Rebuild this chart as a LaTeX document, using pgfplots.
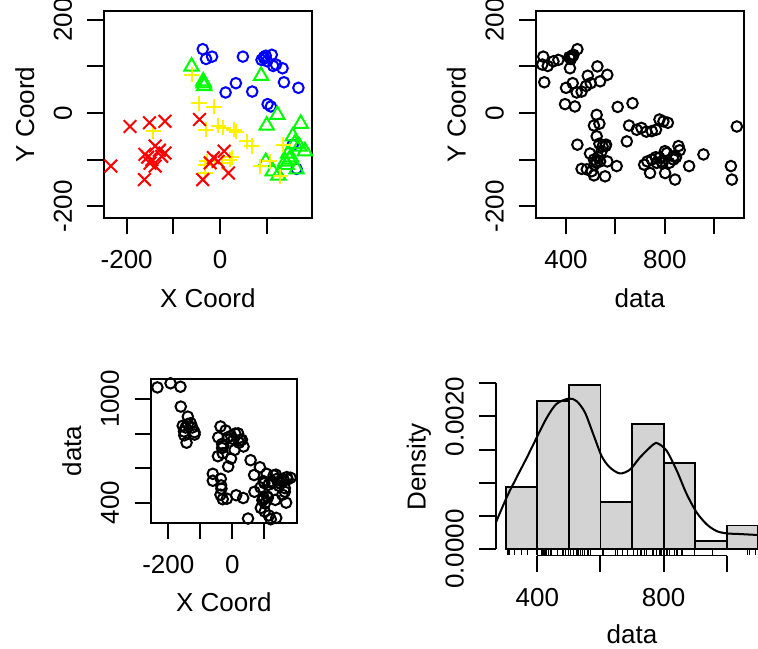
\documentclass[border=0pt]{standalone}
\usepackage{fontspec}
\setmainfont{Liberation Sans}
\usepackage{pgfplots}
\usepackage{pgfplotstable}
\pgfplotsset{compat=1.18}
\definecolor{rgray}{HTML}{D3D3D3}
\newcommand\fs{\fontsize{14.8}{17.8}\selectfont}

% wolfcamp-like data: x, y coords, data value z, quartile class c
\pgfplotstableread{
x y z c
-37 137 446 1
-30 116 420 1
-17 121 423 1
49 121 308 1
89 114 369 1
94 120 413 1
101 111 349 1
111 125 430 1
114 101 326 1
98 123 428 1
134 96 416 1
120 104 304 1
137 66 312 1
168 54 400 1
34 64 427 1
12 44 443 1
69 46 463 1
102 19 396 1
109 14 436 1
156 -68 446 1
164 -120 463 1
95 117 418 1
-61 100 527 2
-36 68 538 2
-34 58 481 2
-35 64 500 2
88 80 488 2
123 -4 524 2
100 -27 513 2
173 -23 535 2
156 -50 524 2
182 -82 544 2
146 -87 497 2
98 -105 524 2
113 -125 504 2
125 -134 513 2
149 -100 513 2
164 -121 484 2
143 -111 515 2
160 -66 535 2
170 -72 548 2
140 -104 538 2
152 -95 530 2
-61 82 567 3
-45 21 669 3
-13 13 609 3
-143 -39 747 3
-30 -36 686 3
-4 -27 655 3
7 -32 705 3
30 -36 764 3
57 -61 646 3
68 -71 560 3
-32 -129 740 3
-32 -111 716 3
21 -100 747 3
4 -107 767 3
86 -114 605 3
107 -104 567 3
129 -136 558 3
136 -68 562 3
-28 -104 729 3
25 -95 763 3
35 -40 725 3
-234 -114 1067 4
-193 -29 1091 4
-162 -143 1071 4
-151 -21 812 4
-118 -18 794 4
-44 -14 778 4
-139 -71 855 4
-161 -89 956 4
-146 -100 835 4
-125 -93 835 4
-118 -86 808 4
-139 -114 898 4
-14 -96 778 4
-4 -104 787 4
9 -82 800 4
18 -129 801 4
-37 -143 841 4
-21 -107 818 4
-155 -95 845 4
-130 -80 860 4
-150 -108 790 4
}\wolf

\pgfplotsset{
  rplot/.style={
    scale only axis, anchor=south west,
    axis line style={line width=1.1pt},
    tick align=outside,
    major tick length=0.33cm,
    tick style={black, line width=1.1pt},
    xtick pos=bottom, ytick pos=left,
    tick label style={font=\fs},
    label style={font=\fs},
    xticklabel style={anchor=base},
    xticklabel shift=0.69cm,
    yticklabel style={rotate=90, anchor=base},
    yticklabel shift=0.31cm,
    xlabel style={anchor=base},
    ylabel style={anchor=base},
  },
  rpts/.style={only marks, mark=o, mark size=3pt, line width=1.15pt, black},
}

\begin{document}
\begin{tikzpicture}
\path[use as bounding box] (0,0) rectangle (15.16cm,12.96cm);

% data locations by quartile
\begin{axis}[rplot, at={(2.08cm,8.6cm)}, width=4.154cm, height=4.14cm,
  xmin=-248.6, xmax=196.5, ymin=-225.5, ymax=219,
  xtick={-200,-100,0,100}, xticklabels={-200,,0,},
  ytick={-200,-100,0,100,200}, yticklabels={-200,,0,,200},
  xlabel={X Coord}, ylabel={Y Coord},
  xlabel style={at={(axis description cs:0.5,-0.43)}},
  ylabel style={at={(axis description cs:-0.337,0.5)}}]
\addplot[scatter, only marks, line width=1.15pt, scatter src=explicit symbolic,
  scatter/classes={
    1={mark=o, blue, mark size=3pt},
    2={mark=triangle, green, mark size=4.7pt},
    3={mark=+, yellow, mark size=4.3pt},
    4={mark=x, red, mark size=5.1pt}}]
  table[x=x, y=y, meta=c] {\wolf};
\end{axis}

% data vs Y
\begin{axis}[rplot, at={(10.714cm,8.6cm)}, width=4.166cm, height=4.14cm,
  xmin=277.4, xmax=1120, ymin=-225.5, ymax=219,
  xtick={400,600,800,1000}, xticklabels={400,,800,},
  ytick={-200,-100,0,100,200}, yticklabels={-200,,0,,200},
  xlabel={data}, ylabel={Y Coord},
  xlabel style={at={(axis description cs:0.5,-0.43)}},
  ylabel style={at={(axis description cs:-0.336,0.5)}}]
\addplot[rpts] table[x=z, y=y] {\wolf};
\end{axis}

% X vs data
\begin{axis}[rplot, at={(3.02cm,2.506cm)}, width=2.914cm, height=2.874cm,
  xmin=-254, xmax=201, ymin=284, ymax=1115.7,
  xtick={-200,-100,0,100}, xticklabels={-200,,0,},
  ytick={400,600,800,1000}, yticklabels={400,,,1000},
  xlabel={X Coord}, ylabel={data},
  xlabel style={at={(axis description cs:0.5,-0.619)}},
  ylabel style={at={(axis description cs:-0.48,0.5)}}]
\addplot[rpts] table[x=x, y=z] {\wolf};
\end{axis}

% histogram with density
\begin{axis}[rplot, at={(9.912cm,1.85cm)}, width=5.456cm, height=3.536cm,
  clip=false, axis line style={draw=none},
  xmin=268, xmax=1132, ymin=-0.0000988, ymax=0.00257,
  xtick={400,600,800,1000}, xticklabels={400,,800,},
  ytick={0,0.0005,0.001,0.0015,0.002,0.0025},
  yticklabels={0.0000,,,,0.0020,}, scaled y ticks=false,
  xlabel={data}, ylabel={Density},
  xlabel style={at={(axis description cs:0.5,-0.498)}},
  ylabel style={at={(axis description cs:-0.2566,0.5)}}]
\addplot[ybar interval, fill=rgray, draw=black, line width=1.05pt] coordinates {
  (300,0.000941) (400,0.002235) (500,0.002471) (600,0.000706)
  (700,0.001882) (800,0.001294) (900,0.000118) (1000,0.000353) (1100,0.000353)};
\addplot[black, line width=1.15pt, smooth] coordinates {
  (269,0.000401) (303,0.000778) (334.5,0.00108) (366,0.00137) (398,0.00168)
  (430,0.00198) (461,0.00219) (500,0.00227) (525,0.00223) (551,0.00206)
  (577.5,0.00173) (604,0.00140) (630,0.00123) (662,0.00114) (694,0.00120)
  (725,0.00138) (768,0.00158) (783,0.00159) (810,0.00148) (842,0.00118)
  (873,0.00083) (905,0.00055) (937,0.00037) (968,0.00027) (1000,0.000235)
  (1042,0.000225) (1100,0.00021) (1132,0.0002)};
\addplot[only marks, mark=|, mark size=1.5pt, line width=0.45pt, black]
  table[x=z, y expr=-0.0000585] {\wolf};
\draw[line width=1.1pt] (axis cs:400,-0.0000988) -- (axis cs:1000,-0.0000988);
\draw[line width=1.1pt] (axis cs:268,0) -- (axis cs:268,0.0025);
\end{axis}
\end{tikzpicture}
\end{document}
